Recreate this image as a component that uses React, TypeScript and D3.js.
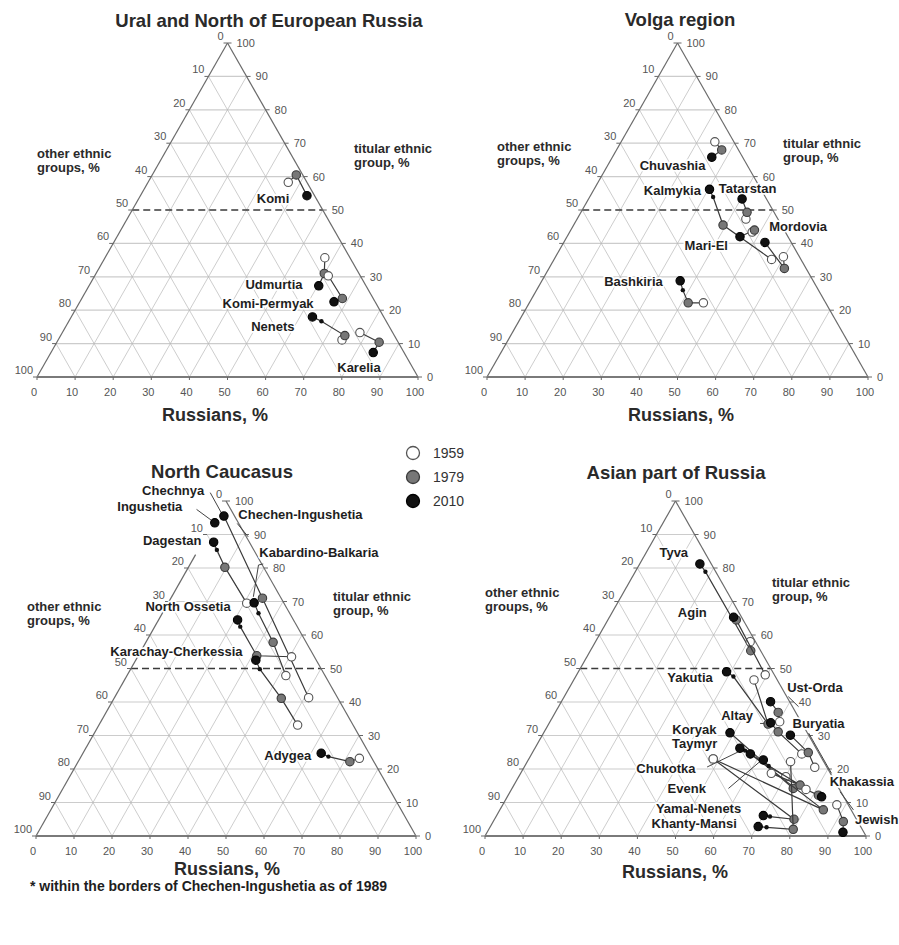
import React from "react";
import * as d3 from "d3";

// values are [1959, 1979, 2010]; "Russians" and "titular" shares in %
type V = number | null;
type Pair = [number, number];

const uralRegions = ["Komi-Permyak", "Udmurtia", "Komi", "Nenets", "Karelia"];
const uralRussians: V[][] = [
  [36.8, 37.8, 43.7],
  [57.7, 59.9, 60.3],
  [61.3, 68.4, 66.7],
  [74.5, 74.6, 63.3],
  [78.1, 84.6, 84.6],
];
const uralTitular: V[][] = [
  [58.3, 60.5, 54.3],
  [35.7, 31.0, 27.3],
  [30.3, 23.5, 22.5],
  [11.1, 12.4, 18.0],
  [13.3, 10.4, 7.3],
];
const uralInterim: (Pair | null)[] = [null, null, null, [66.3, 16.7], null];
const uralLabels = [
  { text: "Komi", r: 35.2, t: 53.5 },
  { text: "Udmurtia", r: 48.3, t: 27.8 },
  { text: "Komi-Permyak", r: 49.6, t: 22.1 },
  { text: "Nenets", r: 54.3, t: 15.2 },
  { text: "Karelia", r: 83.0, t: 3.0 },
];

const volgaRegions = ["Chuvashia", "Kalmykia", "Tatarstan", "Mari-El", "Mordovia", "Bashkiria"];
const volgaRussians: V[][] = [
  [24.6, 27.6, 26.1],
  [57.1, 39.2, 30.3],
  [44.3, 43.6, 40.3],
  [47.9, 48.2, 45.4],
  [59.8, 61.8, 52.8],
  [45.7, 41.7, 36.3],
];
const volgaTitular: V[][] = [
  [70.4, 68.0, 65.8],
  [35.2, 45.5, 56.2],
  [47.3, 49.3, 53.3],
  [43.4, 44.0, 42.0],
  [36.0, 32.5, 40.3],
  [22.2, 22.2, 28.8],
];
const volgaInterim: (Pair | null)[] = [null, [32.4, 53.9], null, null, null, [38.4, 26.0]];
const volgaLabels = [
  { text: "Chuvashia", r: 17.1, t: 63.2 },
  { text: "Kalmykia", r: 20.7, t: 55.9 },
  { text: "Tatarstan", r: 40.2, t: 56.4 },
  { text: "Mordovia", r: 59.1, t: 45.1 },
  { text: "Mari-El", r: 37.8, t: 39.5 },
  { text: "Bashkiria", r: 24.1, t: 28.7 },
];

const caucasusRegions = ["Chechnya", "Ingushetia", "Dagestan", "Kabardino-Balkaria", "North Ossetia", "Karachay-Cherkessia", "Adygea"];
const caucasusRussians: V[][] = [
  [51.1, 24.1, 1.7],
  [null, null, 0.3],
  [20.7, 9.6, 2.9],
  [41.8, 33.5, 22.6],
  [40.5, 31.2, 20.8],
  [52.3, 44.0, 31.6],
  [73.5, 71.5, 62.7],
];
const caucasusTitular: V[][] = [
  [41.3, 71.0, 95.5],
  [null, null, 93.5],
  [69.5, 80.2, 87.7],
  [47.9, 57.8, 69.6],
  [53.5, 53.8, 64.5],
  [33.1, 41.1, 52.5],
  [23.2, 22.2, 24.7],
];
const caucasusInterim: (Pair | null)[] = [null, null, [4.9, 85.4], [25.3, 66.5], [22.5, 62.5], [34.0, 49.8], [65.1, 23.7]];
const caucasusLabels = [
  { text: "Chechnya", r: -15.5, t: 103.2 },
  { text: "Ingushetia", r: -19.2, t: 98.3 },
  { text: "Chechen-Ingushetia", r: 21.6, t: 96.0 },
  { text: "Dagestan", r: -8.3, t: 88.3 },
  { text: "Kabardino-Balkaria", r: 32.2, t: 84.5 },
  { text: "North Ossetia", r: 5.8, t: 68.4 },
  { text: "Karachay-Cherkessia", r: 9.4, t: 55.1 },
  { text: "Adygea", r: 54.3, t: 23.9 },
];
const caucasusLeaders: Pair[][] = [
  [[-5.4, 102.5], [1.5, 95.5]],
  [[-6.5, 97.5], [0.3, 93.5]],
  [[6.3, 93.3], [11.2, 89.3]],
  [[19.2, 81.2], [18.1, 80.9], [21.5, 71.4]],
];

const asiaRegions = ["Tyva", "Agin", "Yakutia", "Ust-Orda", "Altay", "Buryatia", "Koryak", "Taymyr", "Chukotka", "Evenk", "Khakassia", "Jewish", "Yamal-Nenets", "Khanty-Mansi"];
const asiaRussians: V[][] = [
  [40.6, 42.1, 15.8],
  [49.5, 33.7, 32.6],
  [47.3, 57.6, 38.9],
  [60.3, 58.5, 54.9],
  [70.9, 61.4, 58.1],
  [76.3, 72.4, 65.1],
  [null, 73.8, 48.9],
  [70.1, null, 53.8],
  [48.4, 84.9, 57.4],
  [65.8, 75.1, 61.7],
  [77.3, 81.4, 82.5],
  [87.7, 91.9, 93.4],
  [48.4, 78.6, 70.0],
  [69.1, 79.9, 70.3],
];
const asiaTitular: V[][] = [
  [58.0, 55.3, 81.2],
  [48.1, 64.5, 65.3],
  [46.6, 33.4, 49.0],
  [34.1, 36.9, 40.1],
  [24.5, 31.1, 33.8],
  [20.5, 24.9, 30.1],
  [null, 14.2, 30.8],
  [17.7, null, 26.2],
  [23.0, 7.8, 24.5],
  [18.7, 15.2, 22.7],
  [13.9, 12.2, 11.7],
  [9.3, 4.3, 1.1],
  [23.0, 5.0, 6.1],
  [22.2, 2.0, 2.8],
];
const asiaInterim: (Pair | null)[] = [
  [18.4, 78.9], null, [41.4, 47.6], null, null, null, null,
  [55.5, 25.5], null, [64.0, 20.9], null, null, [71.9, 5.8], [72.6, 2.6],
];
const asiaLabels = [
  { text: "Tyva", r: 7.3, t: 84.5 },
  { text: "Agin", r: 21.1, t: 66.6 },
  { text: "Yakutia", r: 30.1, t: 47.4 },
  { text: "Ust-Orda", r: 64.5, t: 44.2 },
  { text: "Altay", r: 48.2, t: 35.9 },
  { text: "Buryatia", r: 70.8, t: 33.5 },
  { text: "Koryak", r: 39.1, t: 31.7 },
  { text: "Taymyr", r: 41.3, t: 27.5 },
  { text: "Chukotka", r: 37.4, t: 20.2 },
  { text: "Evenk", r: 45.8, t: 14.3 },
  { text: "Khakassia", r: 90.8, t: 16.2 },
  { text: "Yamal-Nenets", r: 51.9, t: 8.3 },
  { text: "Khanty-Mansi", r: 53.1, t: 3.6 },
  { text: "Jewish", r: 100.4, t: 4.8 },
];
const asiaLeaders: Pair[][] = [
  [[58.8, 41.6], [63.0, 38.6]],
  [[55.4, 33.6], [58.2, 33.6]],
  [[69.6, 30.7], [81.6, 18.7]],
  [[86.6, 13.2], [92.8, 7.8]],
  [[48.0, 20.6], [53.9, 25.1]],
  [[56.8, 14.2], [61.3, 22.7]],
];

const legendYears = ["1959", "1979", "2010"];
const ticks = d3.range(0, 101, 10);

const FONT = "'Liberation Sans', Arial, Helvetica, sans-serif";
const YEAR_STYLE = [
  { fill: "#ffffff", stroke: "#555555" },
  { fill: "#777777", stroke: "#3a3a3a" },
  { fill: "#111111", stroke: "#000000" },
];

const panels = [
  {
    title: "Ural and North of European Russia", x0: 37, yb: 377, w: 381, h: 334, edgeTop: 100,
    titleX: 269, titleY: 27, axisX: 215, axisY: 421, otherX: 37, otherY: 158, titX: 354, titY: 153,
    regions: uralRegions, russians: uralRussians, titular: uralTitular, interim: uralInterim, labels: uralLabels, leaders: [] as Pair[][],
  },
  {
    title: "Volga region", x0: 487, yb: 377, w: 381, h: 334, edgeTop: 100,
    titleX: 680, titleY: 26, axisX: 681, axisY: 421, otherX: 497, otherY: 151, titX: 783, titY: 148,
    regions: volgaRegions, russians: volgaRussians, titular: volgaTitular, interim: volgaInterim, labels: volgaLabels, leaders: [] as Pair[][],
  },
  {
    title: "North Caucasus", x0: 36, yb: 836, w: 380, h: 335, edgeTop: 84,
    titleX: 222, titleY: 478, axisX: 227, axisY: 875, otherX: 27, otherY: 611, titX: 333, titY: 601,
    regions: caucasusRegions, russians: caucasusRussians, titular: caucasusTitular, interim: caucasusInterim, labels: caucasusLabels, leaders: caucasusLeaders,
  },
  {
    title: "Asian part of Russia", x0: 485, yb: 836, w: 381, h: 335, edgeTop: 100,
    titleX: 676, titleY: 479, axisX: 675, axisY: 878, otherX: 485, otherY: 597, titX: 772, titY: 587,
    regions: asiaRegions, russians: asiaRussians, titular: asiaTitular, interim: asiaInterim, labels: asiaLabels, leaders: asiaLeaders,
  },
];

type PanelCfg = (typeof panels)[number];

function Panel({ p }: { p: PanelCfg }) {
  const xs = d3.scaleLinear().domain([0, 100]).range([p.x0, p.x0 + p.w]);
  const ys = d3.scaleLinear().domain([0, 100]).range([p.yb, p.yb - p.h]);
  const proj = (r: number, t: number): Pair => [xs(r + t / 2), ys(t)];
  const line = d3.line<Pair>().x((d) => d[0]).y((d) => d[1]);

  const inner = ticks.filter((v) => v > 0 && v < 100);
  const horiz = inner.filter((v) => v !== 50).map((v) => [proj(0, v), proj(100 - v, v)]);
  const diag = inner.flatMap((v) => [
    [proj(v, 0), proj(v, 100 - v)],
    [proj(100 - v, 0), proj(0, 100 - v)],
  ]);

  const bl = proj(0, 0), br = proj(100, 0), ap = proj(0, 100);

  return (
    <g>
      <text x={p.titleX} y={p.titleY} textAnchor="middle" fontFamily={FONT} fontWeight="bold" fontSize={18.5} fill="#2a2a2a">{p.title}</text>
      {horiz.map((s, i) => <path key={"h" + i} d={line(s as Pair[]) || ""} stroke="#cccccc" strokeWidth={1.2} fill="none" />)}
      {diag.map((s, i) => <path key={"d" + i} d={line(s as Pair[]) || ""} stroke="#b8b8b8" strokeWidth={0.7} fill="none" />)}
      <path d={line([proj(0, 50), proj(50, 50)]) || ""} stroke="#3a3a3a" strokeWidth={1.4} strokeDasharray="7 4" fill="none" />
      <path d={line([proj(0, p.edgeTop), bl]) || ""} stroke="#6a6a6a" strokeWidth={1.2} fill="none" />
      <path d={line([ap, br]) || ""} stroke="#6a6a6a" strokeWidth={1.2} fill="none" />
      <path d={line([bl, br]) || ""} stroke="#7a7a7a" strokeWidth={2.2} fill="none" />
      {ticks.map((v) => {
        const b = proj(v, 0), r = proj(100 - v, v), l = proj(0, 100 - v);
        return (
          <g key={"t" + v} fontFamily={FONT} fontSize={11} fill="#555">
            <line x1={b[0]} y1={b[1]} x2={b[0]} y2={b[1] + 3} stroke="#666" />
            <line x1={r[0]} y1={r[1]} x2={r[0] + 4} y2={r[1]} stroke="#666" />
            <line x1={l[0]} y1={l[1]} x2={l[0] - 4} y2={l[1]} stroke="#666" />
            <text x={b[0] - 3} y={b[1] + 19} textAnchor="middle">{v}</text>
            <text x={r[0] + 9} y={r[1] + 4}>{v}</text>
            <text x={l[0] - 4} y={l[1] - 3} textAnchor="end">{v}</text>
          </g>
        );
      })}
      <g fontFamily={FONT} fontWeight="bold" fontSize={13} fill="#2a2a2a">
        <text x={p.otherX} y={p.otherY}>other ethnic</text>
        <text x={p.otherX} y={p.otherY + 14}>groups, %</text>
        <text x={p.titX} y={p.titY}>titular ethnic</text>
        <text x={p.titX} y={p.titY + 14}>group, %</text>
      </g>
      <text x={p.axisX} y={p.axisY} textAnchor="middle" fontFamily={FONT} fontWeight="bold" fontSize={18} fill="#2a2a2a">Russians, %</text>
      {p.labels.map((lb) => {
        const [x, y] = proj(lb.r, lb.t);
        return (
          <text key={lb.text} x={x} y={y} dy="0.35em" textAnchor="middle" fontFamily={FONT} fontWeight="bold" fontSize={13}
            fill="#1e1e1e" stroke="#fff" strokeWidth={3.5} strokeLinejoin="round" paintOrder="stroke">{lb.text}</text>
        );
      })}
      {p.leaders.map((ld, i) => (
        <path key={"l" + i} d={line(ld.map((q) => proj(q[0], q[1]))) || ""} stroke="#444" strokeWidth={1} fill="none" />
      ))}
      {p.regions.map((name, i) => {
        const rs = p.russians[i], ts = p.titular[i];
        const pts: (Pair | null)[] = rs.map((r, k) => (r != null && ts[k] != null ? proj(r, ts[k] as number) : null));
        const mid = p.interim[i] ? proj(p.interim[i]![0], p.interim[i]![1]) : null;
        const path = [pts[0], pts[1], mid, pts[2]].filter((q) => q) as Pair[];
        return (
          <g key={name}>
            {path.length > 1 && <path d={line(path) || ""} stroke="#3a3a3a" strokeWidth={1.2} fill="none" />}
            {mid && <circle cx={mid[0]} cy={mid[1]} r={2.2} fill="#111" />}
            {pts.map((q, k) => q && (
              <circle key={k} cx={q[0]} cy={q[1]} r={4.2} fill={YEAR_STYLE[k].fill} stroke={YEAR_STYLE[k].stroke} strokeWidth={1.1} />
            ))}
          </g>
        );
      })}
    </g>
  );
}

export default function App() {
  return (
    <svg width={899} height={945} style={{ position: "absolute", left: 0, top: 0, background: "#fff" }}>
      {panels.map((p) => <Panel key={p.title} p={p} />)}
      {legendYears.map((yr, k) => (
        <g key={yr}>
          <circle cx={413} cy={453 + k * 24} r={6.5} fill={YEAR_STYLE[k].fill} stroke={YEAR_STYLE[k].stroke} strokeWidth={1.3} />
          <text x={433} y={458 + k * 24} fontFamily={FONT} fontSize={14} fill="#333">{yr}</text>
        </g>
      ))}
      <text x={30} y={891} fontFamily={FONT} fontWeight="bold" fontSize={14} fill="#1e1e1e">* within the borders of Chechen-Ingushetia as of 1989</text>
    </svg>
  );
}
